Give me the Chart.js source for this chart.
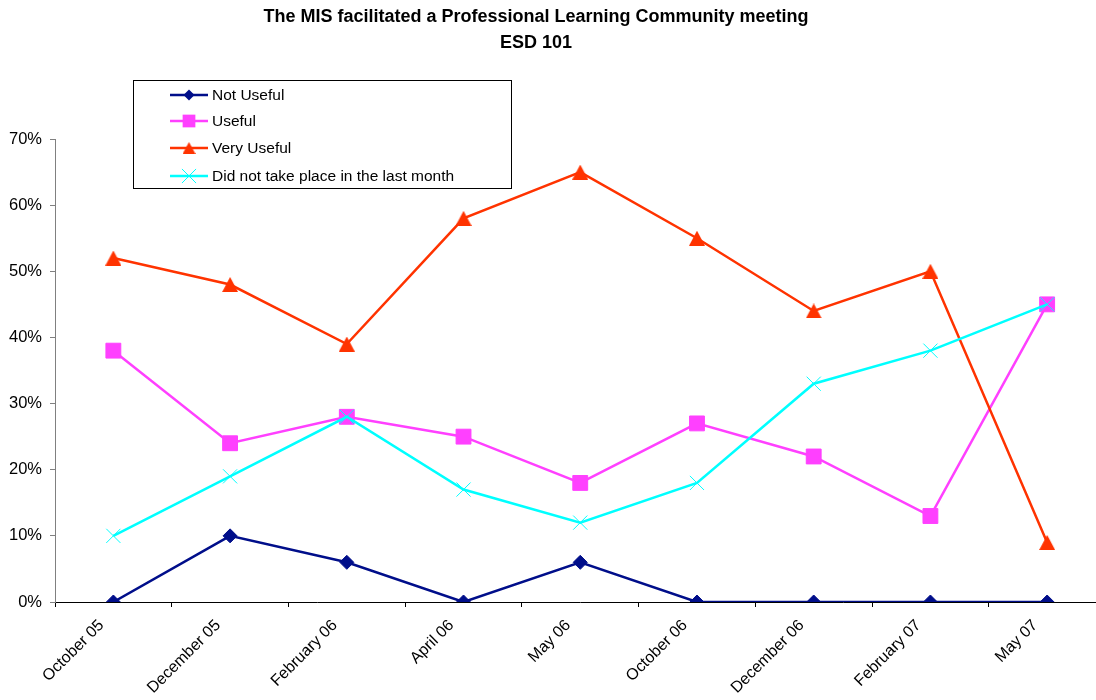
<!DOCTYPE html>
<html>
<head>
<meta charset="utf-8">
<script src="https://cdn.jsdelivr.net/npm/chart.js@4/dist/chart.umd.min.js"></script>
<style>
html,body{margin:0;padding:0;background:#fff;overflow:hidden;}
#wrap{width:1117px;height:700px;}
</style>
</head>
<body>
<div id="wrap"><canvas id="c" width="1117" height="700"></canvas></div>
<script>
const titleLines = ["The MIS facilitated a Professional Learning Community meeting", "ESD 101"];
const categories = ["October 05","December 05","February 06","April 06","May 06","October 06","December 06","February 07","May 07"];
const notUseful = [0, 10, 6, 0, 6, 0, 0, 0, 0];
const useful = [38, 24, 28, 25, 18, 27, 22, 13, 45];
const veryUseful = [52, 48, 39, 58, 65, 55, 44, 50, 9];
const didNotTakePlace = [10, 19, 28, 17, 12, 18, 33, 38, 45];
const yTicks = [0, 10, 20, 30, 40, 50, 60, 70];

const FONT = "'Liberation Sans', Arial, sans-serif";

function triangleCanvas(w, h, color) {
  const c = document.createElement('canvas');
  c.width = w; c.height = h;
  const g = c.getContext('2d');
  g.fillStyle = color;
  g.beginPath();
  g.moveTo(w / 2, 0); g.lineTo(w, h); g.lineTo(0, h); g.closePath();
  g.fill();
  return c;
}
const triPlot = triangleCanvas(16, 15, '#FF3300');
const triLegend = triangleCanvas(13, 12, '#FF3300');

function drawMarker(ctx, ds, x, y) {
  const style = ds.legendStyle || ds.pointStyle;
  const r = ds.legendRadius;
  ctx.fillStyle = ds.pointBackgroundColor;
  ctx.strokeStyle = ds.pointBorderColor;
  ctx.lineWidth = 1;
  ctx.beginPath();
  if (style instanceof HTMLCanvasElement) {
    ctx.drawImage(style, x - style.width / 2, y - style.height / 2);
  } else if (style === 'rectRot') {
    ctx.moveTo(x, y - r); ctx.lineTo(x + r, y); ctx.lineTo(x, y + r); ctx.lineTo(x - r, y); ctx.closePath();
    ctx.fill();
  } else if (style === 'rect') {
    const s = r * Math.SQRT1_2;
    ctx.rect(x - s, y - s, 2 * s, 2 * s); ctx.fill();
  } else if (style === 'crossRot') {
    const s = r * Math.SQRT1_2;
    ctx.moveTo(x - s, y - s); ctx.lineTo(x + s, y + s);
    ctx.moveTo(x + s, y - s); ctx.lineTo(x - s, y + s);
    ctx.stroke();
  }
}

const overlay = {
  id: 'overlay',
  afterDraw(chart) {
    const ctx = chart.ctx;
    ctx.save();
    ctx.fillStyle = '#000';
    ctx.font = "bold 18px " + FONT;
    ctx.textAlign = 'center';
    ctx.textBaseline = 'middle';
    ctx.fillText(titleLines[0], 536, 17);
    ctx.fillText(titleLines[1], 536, 43);
    ctx.strokeStyle = '#000';
    ctx.lineWidth = 1;
    ctx.strokeRect(133.5, 80.5, 378, 108);
    const rows = [95, 121, 148, 176];
    ctx.font = "15.5px " + FONT;
    ctx.textAlign = 'left';
    chart.data.datasets.forEach((ds, i) => {
      const y = rows[i];
      ctx.strokeStyle = ds.borderColor;
      ctx.lineWidth = ds.borderWidth;
      ctx.beginPath();
      ctx.moveTo(170, y);
      ctx.lineTo(208, y);
      ctx.stroke();
      drawMarker(ctx, ds, 189, y);
      ctx.fillStyle = '#000';
      ctx.fillText(ds.label, 212, y + 1);
    });
    ctx.restore();
  }
};

const chart = new Chart(document.getElementById('c'), {
  type: 'line',
  data: {
    labels: categories,
    datasets: [
      { label: 'Not Useful', data: notUseful, borderColor: '#000E8A', backgroundColor: '#000E8A',
        pointBackgroundColor: '#000E8A', pointBorderColor: '#000E8A', pointBorderWidth: 1,
        pointStyle: 'rectRot', pointRadius: 7, legendRadius: 5.5, borderWidth: 2.5, order: 3 },
      { label: 'Useful', data: useful, borderColor: '#FF40FF', backgroundColor: '#FF40FF',
        pointBackgroundColor: '#FF40FF', pointBorderColor: '#FF40FF', pointBorderWidth: 1,
        pointStyle: 'rect', pointRadius: 10.5, legendRadius: 9, borderWidth: 2.5, order: 2 },
      { label: 'Very Useful', data: veryUseful, borderColor: '#FF3300', backgroundColor: '#FF3300',
        pointBackgroundColor: '#FF3300', pointBorderColor: '#FF3300', pointBorderWidth: 1,
        pointStyle: triPlot, legendStyle: triLegend, pointRadius: 9, legendRadius: 7, borderWidth: 2.5, order: 1 },
      { label: 'Did not take place in the last month', data: didNotTakePlace, borderColor: '#00FFFF', backgroundColor: '#00FFFF',
        pointBackgroundColor: '#00FFFF', pointBorderColor: '#00FFFF', pointBorderWidth: 1,
        pointStyle: 'crossRot', pointRadius: 10, legendRadius: 10, borderWidth: 2.5, order: 0 }
    ]
  },
  options: {
    responsive: false,
    devicePixelRatio: 1,
    animation: false,
    layout: { padding: { top: 139, right: 5, left: 0, bottom: 0 } },
    plugins: { legend: { display: false }, title: { display: false }, tooltip: { enabled: false } },
    elements: { line: { tension: 0 } },
    scales: {
      x: {
        offset: true,
        grid: { offset: true, drawOnChartArea: false, drawTicks: true, tickLength: 5, color: '#000' },
        border: { display: true, color: '#000', width: 1 },
        ticks: { autoSkip: false, maxRotation: 45, minRotation: 45, color: '#000', font: { size: 16, family: FONT }, padding: 9, labelOffset: -12 },
        afterFit(scale) { scale.height = 98; scale.paddingLeft = 0; scale.paddingRight = 0; }
      },
      y: {
        min: 0, max: 70,
        afterBuildTicks(scale) { scale.ticks = yTicks.map(v => ({ value: v })); },
        grid: { drawOnChartArea: false, drawTicks: true, tickLength: 5, color: '#808080' },
        border: { display: true, color: '#808080', width: 1 },
        ticks: { color: '#000', font: { size: 16.5, family: FONT }, padding: 8, callback: v => v + '%' },
        afterFit(scale) { scale.width = 55; }
      }
    }
  },
  plugins: [overlay]
});
</script>
</body>
</html>
